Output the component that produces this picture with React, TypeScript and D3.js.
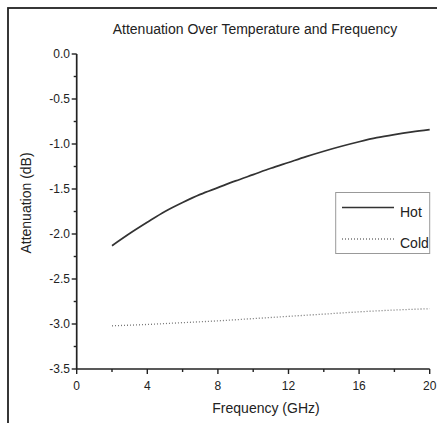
import React from "react";
import * as d3 from "d3";

const freqHot = [2, 3, 4, 5, 6, 7, 8, 9, 10, 11, 12, 13, 14, 15, 16, 17, 18, 19, 20];
const hotValues = [-2.13, -1.995, -1.87, -1.75, -1.65, -1.56, -1.485, -1.41, -1.34, -1.27, -1.205, -1.14, -1.08, -1.025, -0.975, -0.93, -0.895, -0.865, -0.84];
const freqCold = [2, 4, 6, 8, 10, 12, 14, 16, 18, 20];
const coldValues = [-3.02, -3.005, -2.985, -2.965, -2.94, -2.915, -2.89, -2.865, -2.845, -2.83];
const xTicks = [0, 4, 8, 12, 16, 20];
const xMinor = [2, 6, 10, 14, 18];
const yTicks = [0, -0.5, -1.0, -1.5, -2.0, -2.5, -3.0, -3.5];
const yMinor = [-0.25, -0.75, -1.25, -1.75, -2.25, -2.75, -3.25];
const seriesNames = ["Hot", "Cold"];

const FONT = "'Liberation Sans', Arial, sans-serif";

export default function App() {
  const x = d3.scaleLinear().domain([0, 20]).range([76.7, 429.7]);
  const y = d3.scaleLinear().domain([-3.5, 0]).range([369, 54]);
  const line = d3
    .line<[number, number]>()
    .x((d) => x(d[0]))
    .y((d) => y(d[1]))
    .curve(d3.curveMonotoneX);
  const hot = line(freqHot.map((f, i) => [f, hotValues[i]] as [number, number])) || "";
  const cold = line(freqCold.map((f, i) => [f, coldValues[i]] as [number, number])) || "";
  const x0 = x(0);
  const yb = y(-3.5);

  return (
    <svg
      width={437}
      height={423}
      style={{ position: "absolute", left: 0, top: 0, background: "#fff" }}
      fontFamily={FONT}
    >
      <rect x={8} y={8} width={440} height={430} fill="none" stroke="#222" strokeWidth={1.8} />
      <text x={255} y={34} fontSize={14} textAnchor="middle" fill="#222">
        Attenuation Over Temperature and Frequency
      </text>

      <path d={hot} fill="none" stroke="#333" strokeWidth={1.7} />
      <path d={cold} fill="none" stroke="#777" strokeWidth={1.3} strokeDasharray="1,2" />

      {/* axes */}
      <line x1={x0} x2={x0} y1={y(0)} y2={yb} stroke="#222" strokeWidth={1.7} />
      <line x1={x0} x2={x(20)} y1={yb} y2={yb} stroke="#222" strokeWidth={1.7} />
      {yTicks.map((t) => (
        <g key={"y" + t}>
          <line x1={x0 - 5} x2={x0} y1={y(t)} y2={y(t)} stroke="#222" strokeWidth={1.4} />
          <text x={70} y={y(t) + 4.2} fontSize={12} textAnchor="end" fill="#222">
            {t.toFixed(1)}
          </text>
        </g>
      ))}
      {yMinor.map((t) => (
        <line key={"ym" + t} x1={x0 - 3} x2={x0} y1={y(t)} y2={y(t)} stroke="#222" strokeWidth={1.4} />
      ))}
      {xTicks.map((t) => (
        <g key={"x" + t}>
          <line x1={x(t)} x2={x(t)} y1={yb} y2={yb + 5} stroke="#222" strokeWidth={1.4} />
          <text x={x(t)} y={390} fontSize={12} textAnchor="middle" fill="#222">
            {t}
          </text>
        </g>
      ))}
      {xMinor.map((t) => (
        <line key={"xm" + t} x1={x(t)} x2={x(t)} y1={yb} y2={yb + 3} stroke="#222" strokeWidth={1.4} />
      ))}

      <text x={266} y={413} fontSize={14} textAnchor="middle" fill="#222">
        Frequency (GHz)
      </text>
      <text
        transform="translate(31,203) rotate(-90)"
        fontSize={14}
        textAnchor="middle"
        fill="#222"
      >
        Attenuation (dB)
      </text>

      {/* legend */}
      <rect x={335.7} y={192.5} width={94} height={61} fill="#fff" stroke="#999" strokeWidth={1} />
      <line x1={342} x2={394} y1={207.5} y2={207.5} stroke="#333" strokeWidth={1.7} />
      <text x={400} y={216.5} fontSize={14} fill="#222">
        {seriesNames[0]}
      </text>
      <line x1={342} x2={394} y1={239} y2={239} stroke="#777" strokeWidth={1.3} strokeDasharray="1,2" />
      <text x={400} y={248} fontSize={14} fill="#222">
        {seriesNames[1]}
      </text>
    </svg>
  );
}
